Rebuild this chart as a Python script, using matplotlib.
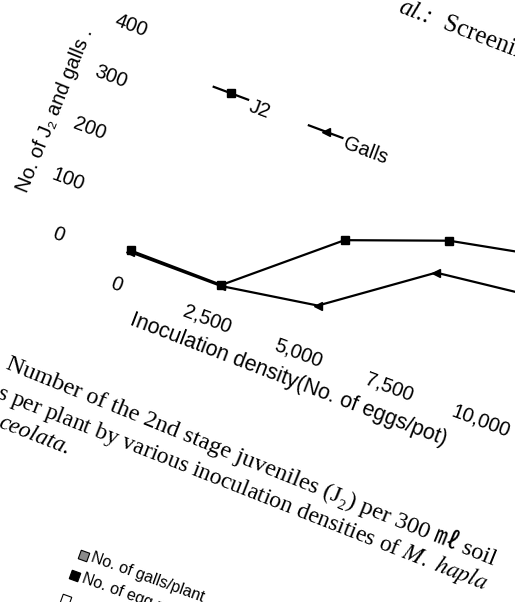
import matplotlib.pyplot as plt
from matplotlib.transforms import Affine2D
from matplotlib.patches import Rectangle

density = [0, 2500, 5000, 7500, 10000]
j2 = [3, 2, 155, 220, 255]
galls = [0, 0, 28, 158, 179]
x_ticks = [0, 2500, 5000, 7500, 10000]
x_tick_labels = ['0', '2,500', '5,000', '7,500', '10,000']
y_ticks = [0, 100, 200, 300, 400]

sans = ['Liberation Sans', 'DejaVu Sans']
serif = ['Liberation Serif', 'DejaVu Serif', 'Noto Sans CJK JP']

fig = plt.figure(figsize=(5.15, 6.02), dpi=100)
ax = fig.add_axes([0, 0, 1, 1])
ax.set_xlim(0, 515)
ax.set_ylim(602, 0)
ax.axis('off')

# the scanned page is tilted, so the chart sits in a skewed frame (pixels)
tilt = Affine2D.from_values(91 / 2500, 34 / 2500, 21 / 100, -51.5 / 100, 130, 252)
chart = tilt + ax.transData

ax.plot(density, j2, color='k', lw=1.6, marker='s', ms=6, transform=chart)
ax.plot(density, galls, color='k', lw=1.6, marker='<', ms=5.5, transform=chart)

tk = dict(transform=chart, rotation=-20.5, rotation_mode='anchor',
          fontsize=14.5, family=sans)
for x, lab in zip(x_ticks, x_tick_labels):
    ax.text(x, -64, lab, ha='center', va='center', **tk)
for y in y_ticks:
    ax.text(-1745, y, str(y), ha='right', va='top', **tk)

ax.text(5035, -116, 'Inoculation density(No. of eggs/pot)', transform=chart,
        rotation=-21, rotation_mode='anchor', ha='center', va='center',
        fontsize=15.5, family=sans)
ax.text(-3170, 192, 'No. of J\u2082 and galls .', transform=chart,
        rotation=68, rotation_mode='anchor', ha='center', va='center',
        fontsize=14.5, family=sans)

# legend drawn by hand, it has to follow the tilt
ax.plot([390, 862, 1335], [331] * 3, color='k', lw=1.6, marker='s', ms=6,
        markevery=[1], transform=chart)
ax.text(1420, 322, 'J2', ha='left', va='center', **tk)
ax.plot([3033, 3494, 3955], [326] * 3, color='k', lw=1.6, marker='<', ms=5.5,
        markevery=[1], transform=chart)
ax.text(4040, 318, 'Galls', ha='left', va='center', **tk)

# rest of the page
pg = dict(rotation_mode='anchor', ha='left', va='baseline', family=serif)
ax.text(397, 12, 'al.:', rotation=-21, fontsize=18, style='italic', **pg)
ax.text(442, 28, 'Screening of', rotation=-21, fontsize=18, **pg)

ax.text(5, 368, 'Number of the 2nd stage juveniles (J\u2082) per 300 \u3396 soil',
        rotation=-22, fontsize=17.5, **pg)
ax.text(-4, 397, r's per plant by various inoculation densities of $\mathit{M.\ hapla}$',
        rotation=-21.5, fontsize=17, math_fontfamily='stix', **pg)
ax.text(-3, 427, 'ceolata.', rotation=-21.5, fontsize=17, style='italic', **pg)

boxes = [((84, 556), '#8a8a8a'), ((75, 576), 'black'), ((66, 600), 'white')]
for (bx, by), fc in boxes:
    ax.add_patch(Rectangle((-4.5, -4.5), 9, 9, facecolor=fc, edgecolor='k', lw=0.8,
                           transform=Affine2D().rotate_deg(20).translate(bx, by) + ax.transData))
ax.text(90, 561, 'No. of galls/plant', rotation=-20, fontsize=11.5,
        rotation_mode='anchor', ha='left', va='baseline', family=sans)
ax.text(81, 582, 'No. of egg masses/plant', rotation=-20, fontsize=11.5,
        rotation_mode='anchor', ha='left', va='baseline', family=sans)

plt.savefig('out.png', dpi=100)
